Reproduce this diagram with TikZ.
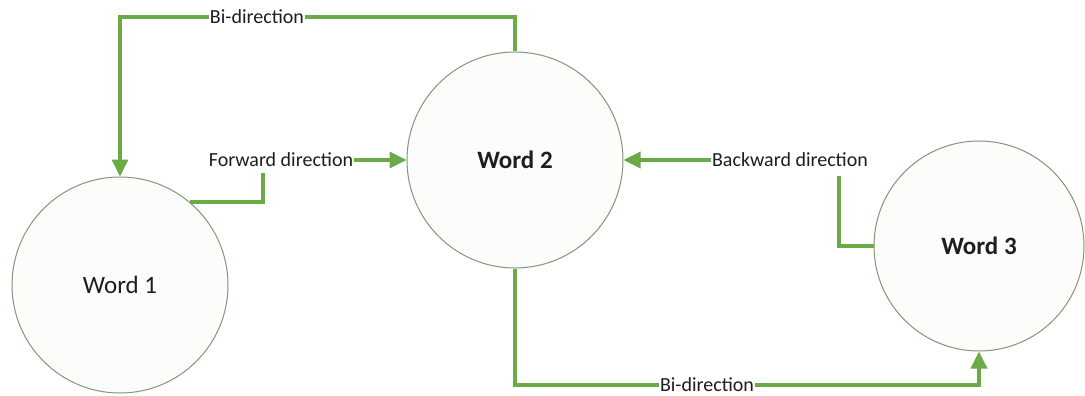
\documentclass[tikz,border=0pt]{standalone}
\usepackage{fontspec}
\setmainfont{Carlito}
\usetikzlibrary{arrows.meta,shapes.geometric}
\definecolor{conngreen}{RGB}{108,170,72}
\definecolor{circedge}{RGB}{135,148,125}
\definecolor{circfill}{RGB}{252,253,251}
\definecolor{txt}{RGB}{30,30,30}
\tikzset{
  wordnode/.style={circle,draw=circedge,line width=1pt,fill=circfill,inner sep=0pt,
    text=txt,font=\fontsize{25}{30}\selectfont},
  conn/.style={draw=conngreen,line width=3.5pt},
  tipped/.style={conn,-{Triangle[length=17pt,width=16pt]}},
  lbl/.style={fill=white,inner sep=0.6pt,text=txt,font=\fontsize{20}{24}\selectfont}
}
\begin{document}
\begin{tikzpicture}[x=1pt,y=-1pt]
\fill[white] (0,0) rectangle (1085,396);
\useasboundingbox (0,0) rectangle (1085,396);
% word nodes
\node[wordnode,minimum size=216pt] (w1) at (120,285) {Word 1};
\node[wordnode,minimum size=216pt,font=\fontsize{25}{30}\selectfont\bfseries] (w2) at (515,160) {Word 2};
\node[wordnode,minimum size=210pt,font=\fontsize{25}{30}\selectfont\bfseries] (w3) at (979,246) {Word 3};
% free ends of connectors
\coordinate (f1) at (263,173);
\coordinate (b1) at (839,176);
% connectors
\draw[tipped] (w2.north) -- (w2.north |- 0,17) -- (w1.north |- 0,17) -- (w1.north);
\draw[conn,line join=miter] (w1.50) -| (f1);
\draw[conn,line join=miter] (w3.west) -| (b1);
\draw[tipped] (w2.south) -- (w2.south |- 0,385) -- (w3.south |- 0,385) -- (w3.south);
% labels
\node[lbl] (topl) at (257,17) {Bi-direction};
\node[lbl] (fwd) at (281,160) {Forward direction};
\node[lbl] (bwd) at (790,160) {Backward direction};
\node[lbl] (botl) at (707,385) {Bi-direction};
\draw[tipped] (fwd.east) -- (w2.west);
\draw[tipped] (bwd.west) -- (w2.east);
\end{tikzpicture}
\end{document}
